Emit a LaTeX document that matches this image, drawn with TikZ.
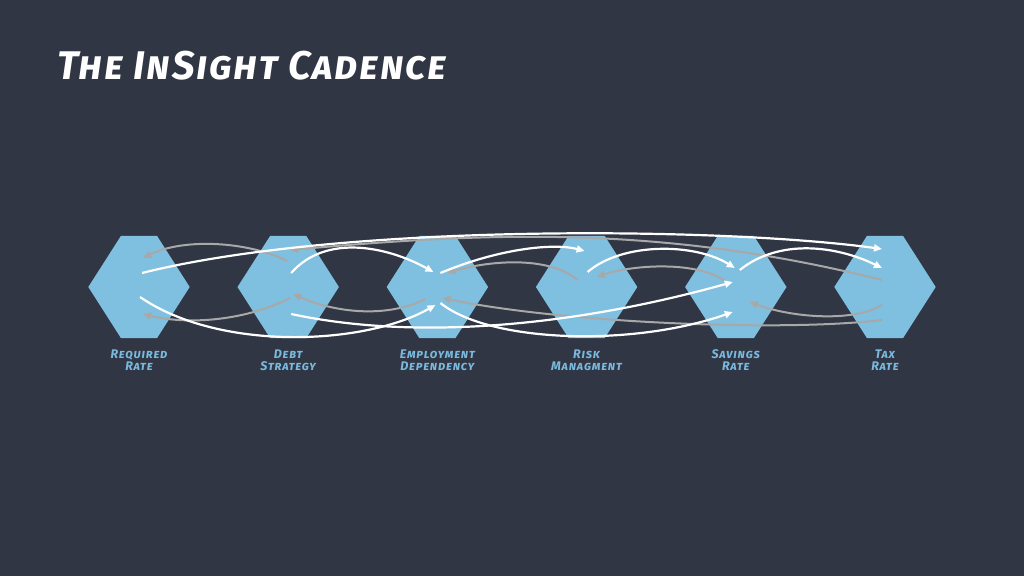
\documentclass[tikz,border=0pt]{standalone}
\usepackage{fontspec}
\setmainfont{Fira Sans}
\newfontfamily\handfont[Letters=SmallCaps,LetterSpace=6]{Fira Sans Bold Italic}
\newfontfamily\titlefont[Letters=SmallCaps,LetterSpace=4]{Fira Sans Bold Italic}
\usetikzlibrary{arrows.meta,positioning}
\definecolor{slate}{HTML}{303644}
\definecolor{hexblue}{HTML}{7FBFE0}
\definecolor{lblblue}{HTML}{7AB9DD}
\definecolor{linegray}{HTML}{A8A8A8}

\begin{document}
\begin{tikzpicture}[x=1pt,y=1pt,
  >={Triangle[length=8pt,width=7pt]},
  hexnode/.style={minimum width=101pt,minimum height=102pt,inner sep=0pt},
  lbl/.style={text=lblblue,font=\handfont\fontsize{12.5}{12}\selectfont,align=center,inner sep=0pt},
  heading/.style={text=white,font=\titlefont\fontsize{40}{44}\selectfont,inner sep=0pt},
  wline/.style={->,draw=white,line width=2.2pt},
  gline/.style={->,draw=linegray,line width=2pt}]
\fill[slate] (0,0) rectangle (1024,576);
\node[heading,anchor=base west] (title) at (57,496) {The InSight Cadence};
\foreach \nm/\hx/\txt in {rr/139/{Required\\Rate},ds/288.2/{Debt\\Strategy},
  ed/437.4/{Employment\\Dependency},rm/586.6/{Risk\\Managment},
  sr/735.8/{Savings\\Rate},tr/885/{Tax\\Rate}}{
  \node[hexnode] (\nm) at (\hx,289) {};
  \fill[hexblue] (\nm.west) -- ([xshift=-18pt]\nm.north) -- ([xshift=18pt]\nm.north)
    -- (\nm.east) -- ([xshift=18pt]\nm.south) -- ([xshift=-18pt]\nm.south) -- cycle;
  \node[lbl,below=11pt of \nm] (\nm-lbl) {\txt};
}
\draw[gline] ([shift={(-1,26)}]ds.center) .. controls +(-40,20) and +(40,20) .. ([shift={(4,29)}]rr.center);
\draw[gline] ([shift={(2,-11)}]ds.center) .. controls +(-50,-25) and +(40,-10) .. ([shift={(4,-27)}]rr.center);
\draw[gline] ([shift={(-3,7)}]tr.center) .. controls +(-220,55) and +(200,18) .. ([shift={(2,37)}]ds.center);
\draw[gline] ([shift={(-12,-12)}]ed.center) .. controls +(-40,-20) and +(40,-18) .. ([shift={(5,-7)}]ds.center);
\draw[gline] ([shift={(-9,7)}]rm.center) .. controls +(-30,25) and +(40,12) .. ([shift={(10,14)}]ed.center);
\draw[gline] ([shift={(-3,-33)}]tr.center) .. controls +(-100,-12) and +(120,-25) .. ([shift={(5,-11)}]ed.center);
\draw[gline] ([shift={(-9,5)}]sr.center) .. controls +(-30,22) and +(35,12) .. ([shift={(10,10)}]rm.center);
\draw[gline] ([shift={(-3,-18)}]tr.center) .. controls +(-30,-18) and +(40,-15) .. ([shift={(14,-15)}]sr.center);
\draw[wline] ([shift={(3,14)}]rr.center) .. controls +(200,50) and +(-160,22) .. ([shift={(-3,38)}]tr.center);
\draw[wline] ([shift={(1,-10)}]rr.center) .. controls +(80,-55) and +(-70,-40) .. ([shift={(-2,-18)}]ed.center);
\draw[wline] ([shift={(3,14)}]ds.center) .. controls +(35,40) and +(-45,25) .. ([shift={(-4,15)}]ed.center);
\draw[wline] ([shift={(3,-27)}]ds.center) .. controls +(130,-28) and +(-150,-42) .. ([shift={(-3,5)}]sr.center);
\draw[wline] ([shift={(3,14)}]ed.center) .. controls +(60,25) and +(-30,8) .. ([shift={(-2,36)}]rm.center);
\draw[wline] ([shift={(3,-16)}]ed.center) .. controls +(50,-40) and +(-100,-35) .. ([shift={(-3,-25)}]sr.center);
\draw[wline] ([shift={(1,15)}]rm.center) .. controls +(35,30) and +(-40,25) .. ([shift={(-1,19)}]sr.center);
\draw[wline] ([shift={(4,17)}]sr.center) .. controls +(40,32) and +(-45,22) .. ([shift={(-3,19)}]tr.center);
\end{tikzpicture}
\end{document}
